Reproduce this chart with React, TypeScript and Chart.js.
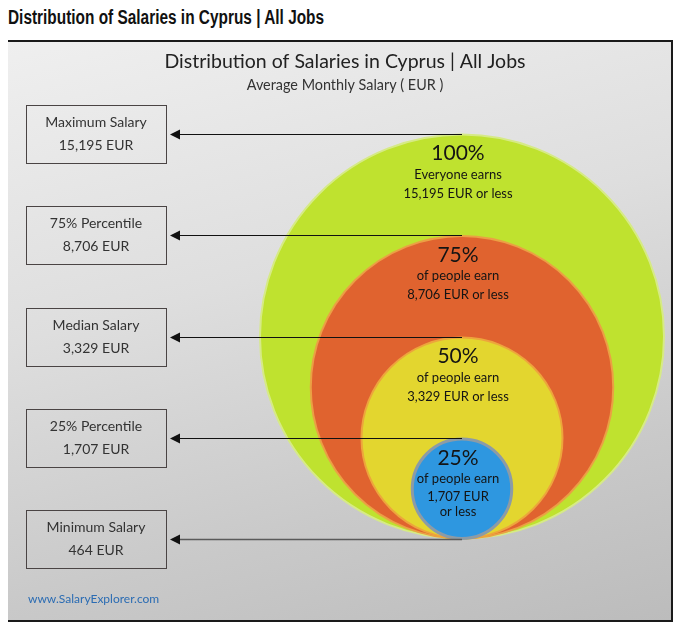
import { useEffect, useRef } from "react";
import { Chart, registerables, Plugin } from "chart.js";

Chart.register(...registerables);

// percentile levels (also the circle sizes) and salaries in EUR
const percentiles = [100, 75, 50, 25];
const circleSalaries = [15195, 8706, 3329, 1707];
const circleHeadlines = ["100%", "75%", "50%", "25%"];
const circleCaptions = ["Everyone earns", "of people earn", "of people earn", "of people earn"];
const circleColors = ["#bfe22f", "#e0632f", "#e3d62f", "#2e97e0"];
const circleBorders = ["#d6ea86", "#eba044", "#eda53c", "#8c9ba6"];

// left-hand labels
const boxLevels = [100, 75, 50, 25, 0];
const boxLabels = ["Maximum Salary", "75% Percentile", "Median Salary", "25% Percentile", "Minimum Salary"];
const boxSalaries = [15195, 8706, 3329, 1707, 464];

const FONT = "Lato, 'Open Sans', sans-serif";
const fmt = (v: number) => v.toLocaleString("en-US");

const annotations: Plugin<"scatter"> = {
  id: "salaryAnnotations",
  afterDatasetsDraw(chart) {
    const { ctx, chartArea } = chart;
    const x = chart.scales.x;
    const y = chart.scales.y;
    const cx = x.getPixelForValue(0);

    ctx.save();

    // boxes + arrows
    const boxLeft = chartArea.left + 7;
    const boxW = 140;
    const boxH = 58;
    boxLevels.forEach((lvl, i) => {
      const py = Math.round(y.getPixelForValue(lvl)) + 0.5;
      ctx.strokeStyle = "#4a4444";
      ctx.lineWidth = 1;
      ctx.strokeRect(boxLeft + 0.5, py - boxH / 2, boxW, boxH);
      ctx.fillStyle = "#333";
      ctx.font = `14px ${FONT}`;
      ctx.textAlign = "center";
      ctx.textBaseline = "middle";
      ctx.fillText(boxLabels[i], boxLeft + boxW / 2, py - 12);
      ctx.fillText(`${fmt(boxSalaries[i])} EUR`, boxLeft + boxW / 2, py + 11);

      const tip = boxLeft + boxW + 4;
      ctx.strokeStyle = lvl === 0 ? "#5a5a5a" : "#111";
      ctx.lineWidth = lvl === 0 ? 1.6 : 1.2;
      ctx.beginPath();
      ctx.moveTo(tip + 8, py);
      ctx.lineTo(cx, py);
      ctx.stroke();
      ctx.fillStyle = "#111";
      ctx.beginPath();
      ctx.moveTo(tip, py);
      ctx.lineTo(tip + 10, py - 5);
      ctx.lineTo(tip + 10, py + 5);
      ctx.closePath();
      ctx.fill();
    });

    // circle texts
    percentiles.forEach((p, i) => {
      const top = y.getPixelForValue(p);
      const tx = cx - 4;
      ctx.fillStyle = "#141414";
      ctx.textAlign = "center";
      ctx.textBaseline = "middle";
      ctx.font = `21px ${FONT}`;
      ctx.fillText(circleHeadlines[i], tx, top + 20);
      ctx.font = `13px ${FONT}`;
      ctx.fillText(circleCaptions[i], tx, top + 41);
      if (p === 25) {
        ctx.fillText(`${fmt(circleSalaries[i])} EUR`, tx, top + 59);
        ctx.fillText("or less", tx, top + 74);
      } else {
        ctx.fillText(`${fmt(circleSalaries[i])} EUR or less`, tx, top + 60);
      }
    });

    // watermark
    ctx.fillStyle = "#2b6cb3";
    ctx.font = `12px ${FONT}`;
    ctx.textAlign = "left";
    ctx.fillText("www.SalaryExplorer.com", chartArea.left + 9, chartArea.bottom - 21);

    ctx.restore();
  },
};

const App = () => {
  const chartRef = useRef<HTMLCanvasElement>(null);
  const chartInstance = useRef<Chart<"scatter"> | null>(null);

  useEffect(() => {
    if (!chartRef.current) return;
    if (chartInstance.current) chartInstance.current.destroy();

    const ctx = chartRef.current.getContext("2d");
    if (!ctx) return;

    chartInstance.current = new Chart(ctx, {
      type: "scatter",
      data: {
        datasets: [
          {
            label: "Percentile",
            // nested circles, all resting on level 0
            data: percentiles.map((p) => ({ x: 0, y: p / 2 })),
            showLine: false,
            pointBackgroundColor: circleColors,
            pointBorderColor: circleBorders,
            pointBorderWidth: [2, 2, 2, 3],
            pointRadius: (c: any) => {
              const ys = c.chart.scales.y;
              const p = percentiles[c.dataIndex];
              const r = ys.getPixelForValue(0) - ys.getPixelForValue(p / 2) - 1;
              return isFinite(r) ? r : 0;
            },
          } as any,
        ],
      },
      options: {
        animation: false,
        responsive: true,
        maintainAspectRatio: false,
        events: [],
        layout: { padding: { left: 11, right: 0, top: 0, bottom: 0 } },
        scales: {
          x: { type: "linear", display: false, min: -443, max: 209 },
          y: { type: "linear", display: false, min: -19.83, max: 109.81 },
        },
        plugins: {
          legend: { display: false },
          tooltip: { enabled: false },
          title: {
            display: true,
            text: "Distribution of Salaries in Cyprus | All Jobs",
            color: "#222",
            font: { family: FONT, size: 19.5, weight: "normal" },
            padding: { top: 8, bottom: 0 },
          },
          subtitle: {
            display: true,
            text: "Average Monthly Salary ( EUR )",
            color: "#333",
            font: { family: FONT, size: 14.4, weight: "normal" },
            padding: { top: 3, bottom: 0 },
          },
        },
      },
      plugins: [annotations],
    });

    return () => {
      if (chartInstance.current) {
        chartInstance.current.destroy();
        chartInstance.current = null;
      }
    };
  }, []);

  return (
    <div style={{ position: "relative", width: 682, height: 634, margin: -8, overflow: "hidden", background: "#fff" }}>
      <div
        style={{
          position: "absolute",
          left: 8,
          top: 6,
          lineHeight: "22px",
          font: "bold 20px 'Liberation Sans', Arial, sans-serif",
          color: "#111",
          whiteSpace: "nowrap",
          transform: "scaleX(0.77)",
          transformOrigin: "left center",
        }}
      >
        Distribution of Salaries in Cyprus | All Jobs
      </div>
      <div
        style={{
          position: "absolute",
          left: 6,
          top: 40,
          width: 667,
          height: 582,
          boxSizing: "border-box",
          border: "2px solid #1a1a1a",
          background: "linear-gradient(165deg, #efefef 0%, #dedede 40%, #c9c9c9 75%, #bcbcbc 100%)",
        }}
      >
        <div style={{ position: "relative", width: 663, height: 578 }}>
          <canvas ref={chartRef} />
        </div>
      </div>
    </div>
  );
};

export default App;
